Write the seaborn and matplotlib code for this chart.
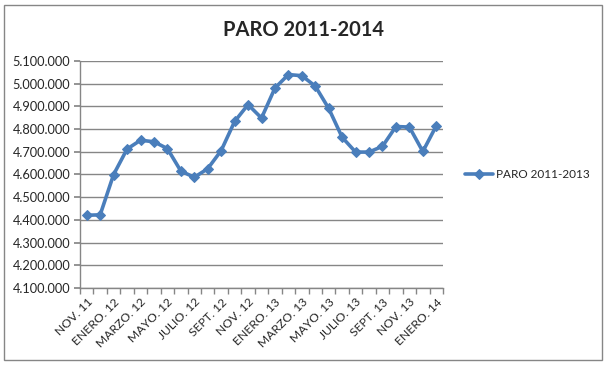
import matplotlib
matplotlib.use("Agg")
import matplotlib.pyplot as plt
import matplotlib.ticker as mticker
import pandas as pd
import seaborn as sns
from matplotlib.patches import Rectangle

# Paro registrado, noviembre 2011 - enero 2014 (mensual)
months = ["NOV. 11", "DIC. 11", "ENERO. 12", "FEB. 12", "MARZO. 12", "ABRIL. 12",
          "MAYO. 12", "JUNIO. 12", "JULIO. 12", "AGOSTO. 12", "SEPT. 12", "OCT. 12",
          "NOV. 12", "DIC. 12", "ENERO. 13", "FEB. 13", "MARZO. 13", "ABRIL. 13",
          "MAYO. 13", "JUNIO. 13", "JULIO. 13", "AGOSTO. 13", "SEPT. 13", "OCT. 13",
          "NOV. 13", "DIC. 13", "ENERO. 14"]
paro = [4420462, 4422359, 4599829, 4712098, 4750867, 4744235, 4714122, 4615269,
        4587455, 4625634, 4705279, 4833521, 4907817, 4848723, 4980778, 5040222,
        5035243, 4989193, 4890928, 4763680, 4698814, 4698783, 4724355, 4811383,
        4808908, 4701338, 4814435]
series_name = "PARO 2011-2013"
title = "PARO 2011-2014"

df = pd.DataFrame({"pos": range(len(months)), "mes": months, "paro": paro})

sns.set_theme(style="white")
plt.rcParams["font.family"] = ["Lato", "DejaVu Sans"]

fig = plt.figure(figsize=(6.07, 3.67), dpi=100)
ax = fig.add_axes([80 / 607, 1 - 288 / 367, 363 / 607, 227 / 367])

line_color = "#4A7EBB"
sns.lineplot(data=df, x="pos", y="paro", ax=ax, color=line_color, linewidth=2.6,
             marker="D", markersize=5.5, markeredgecolor=line_color, label=series_name)

ax.set_xlim(-0.5, len(months) - 0.5)
ax.set_ylim(4100000, 5100000)
ax.yaxis.set_major_locator(mticker.MultipleLocator(100000))
ax.yaxis.set_major_formatter(mticker.FuncFormatter(lambda v, p: f"{int(v):,}".replace(",", ".")))
ax.grid(axis="y", color="#868686", linewidth=1)
ax.set_axisbelow(True)

# labels every other month, tick marks between categories
ax.set_xticks(df["pos"][::2])
ax.set_xticklabels(df["mes"][::2], rotation=45, ha="right", rotation_mode="anchor", fontsize=8.7)
ax.xaxis.set_minor_locator(mticker.FixedLocator([i - 0.5 for i in range(len(months) + 1)]))
ax.tick_params(axis="x", which="major", length=0, pad=6)
ax.tick_params(axis="x", which="minor", length=4, color="#868686", bottom=True)
ax.tick_params(axis="y", length=4, color="#868686", left=True, labelsize=9.2, pad=3)
ax.set_xlabel("")
ax.set_ylabel("")

for s in ["top", "right"]:
    ax.spines[s].set_visible(False)
for s in ["left", "bottom"]:
    ax.spines[s].set_color("#868686")
    ax.spines[s].set_linewidth(1)

ax.legend(loc="center left", bbox_to_anchor=(1.03, 0.5), frameon=False, fontsize=8.5,
          handlelength=2.4, handletextpad=0.3)

fig.text(0.5, 1 - 30 / 367, title, ha="center", va="center", fontsize=14.5, fontweight="bold")
fig.patches.append(Rectangle((4 / 607, 1 - 360 / 367), 598 / 607, 355 / 367, transform=fig.transFigure,
                             fill=False, edgecolor="#868686", linewidth=1))

fig.savefig("out.png", dpi=100)
